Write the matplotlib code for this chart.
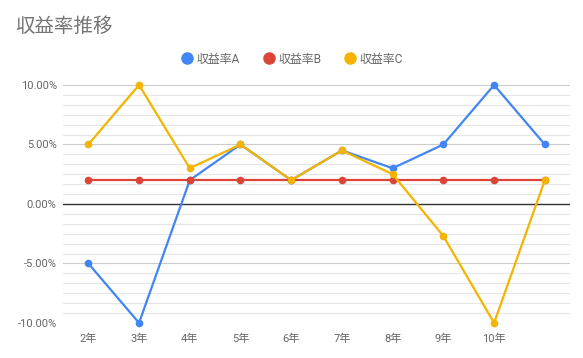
import numpy as np
import matplotlib
matplotlib.use("Agg")
import matplotlib.pyplot as plt
from matplotlib.lines import Line2D
from matplotlib.ticker import FuncFormatter, MultipleLocator

plt.rcParams["font.family"] = ["Roboto", "Noto Sans CJK JP", "DejaVu Sans"]

# Data
years = ["2年", "3年", "4年", "5年", "6年", "7年", "8年", "9年", "10年", ""]
rate_a = [-5, -10, 2, 5, 2, 4.5, 3, 5, 10, 5]
rate_b = [2, 2, 2, 2, 2, 2, 2, 2, 2, 2]
rate_c = [5, 10, 3, 5, 2, 4.5, 2.5, -2.7, -10, 2]
series_names = ["収益率A", "収益率B", "収益率C"]
colors = ["#4285F4", "#DB4437", "#F4B400"]

fig = plt.figure(figsize=(5.83, 3.58), dpi=100)
ax = fig.add_axes([0.108, 0.098, 0.870, 0.6646])

x = np.arange(len(years))
for vals, name, col in zip([rate_a, rate_b, rate_c], series_names, colors):
    ax.plot(x, vals, color=col, linewidth=1.6, marker="o", markersize=4.5,
            label=name, clip_on=False, zorder=3)

ax.set_xlim(-0.5, len(years) - 0.5)
ax.set_ylim(-10, 10)

# gridlines
ax.yaxis.set_major_locator(MultipleLocator(5))
ax.yaxis.set_minor_locator(MultipleLocator(5 / 6))
ax.grid(axis="y", which="major", color="#cccccc", linewidth=0.8, zorder=0)
ax.grid(axis="y", which="minor", color="#e6e6e6", linewidth=0.8, zorder=0)
ax.axhline(0, color="#333333", linewidth=1.0, zorder=1)
ax.set_axisbelow(True)

ax.yaxis.set_major_formatter(FuncFormatter(lambda v, p: f"{v:.2f}%"))
ax.set_xticks(x)
ax.set_xticklabels(years)
ax.tick_params(axis="both", which="both", length=0, labelsize=8, colors="#666666")
ax.tick_params(axis="x", pad=8)
ax.tick_params(axis="y", pad=4.5)
for s in ax.spines.values():
    s.set_visible(False)

fig.text(15 / 583, 1 - 27 / 358, "収益率推移", fontsize=14, color="#757575",
         ha="left", va="center")

handles = [Line2D([], [], color=c, marker="o", linestyle="none", markersize=8)
           for c in colors]
fig.legend(handles, series_names, loc="center", bbox_to_anchor=(0.501, 1 - 59 / 358),
           ncol=3, frameon=False, fontsize=8.6, labelcolor="#666666",
           handletextpad=0.3, columnspacing=1.9, handlelength=1.0)

fig.savefig("out.png", dpi=100)
